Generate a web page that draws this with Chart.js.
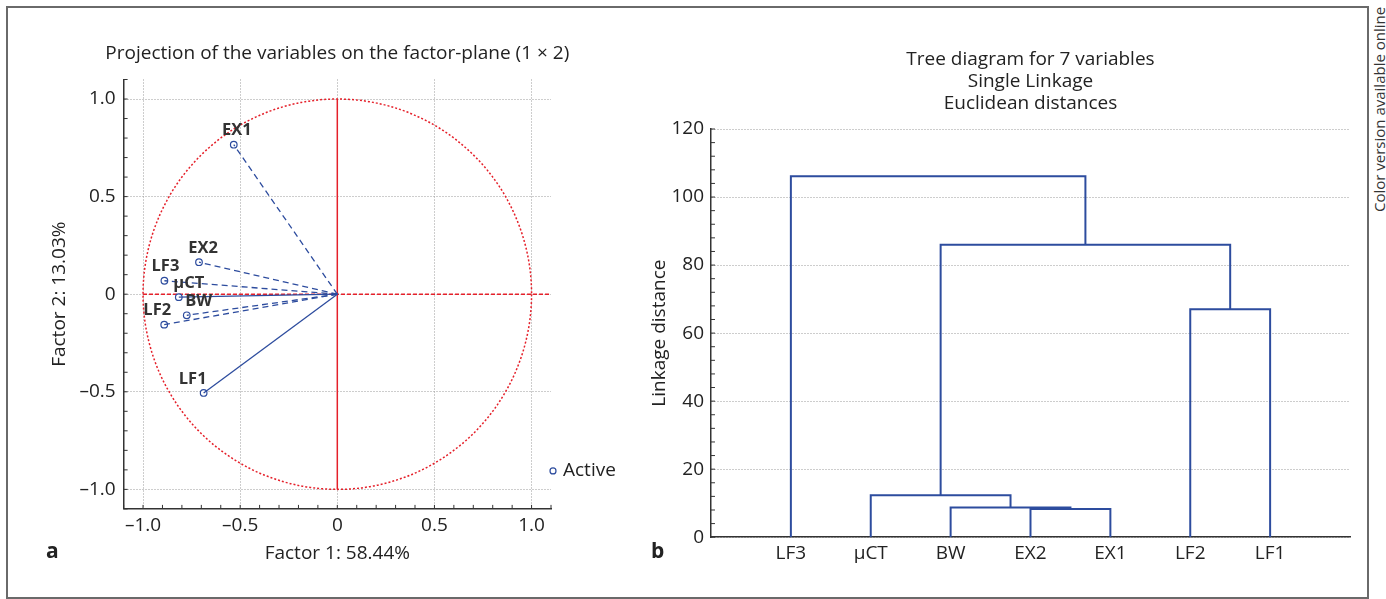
<!DOCTYPE html>
<html>
<head>
<meta charset="utf-8">
<script src="https://cdn.jsdelivr.net/npm/chart.js@4.4.0/dist/chart.umd.min.js"></script>
<style>
  body { margin: 0; width: 1386px; height: 599px; overflow: hidden; background: #fff; font-family: 'Open Sans', sans-serif; color: #222; }
  #frame { position: absolute; left: 6px; top: 6px; width: 1359px; height: 589px; border: 2px solid #6a6a6a; }
  #pca-box { position: absolute; left: 10px; top: 10px; width: 625px; height: 580px; }
  #tree-box { position: absolute; left: 640px; top: 10px; width: 720px; height: 580px; }
  .panel { position: absolute; font-weight: bold; font-size: 21px; line-height: 1; }
  #side { position: absolute; left: 1369px; top: 6px; height: 206px; writing-mode: vertical-rl; transform: rotate(180deg); font-size: 15px; color: #333; text-align: left; }
</style>
</head>
<body>
<div id="frame"></div>
<div id="pca-box"><canvas id="pca"></canvas></div>
<div id="tree-box"><canvas id="tree"></canvas></div>
<div class="panel" style="left:46px; top:540px;">a</div>
<div class="panel" style="left:651px; top:540px;">b</div>
<div id="side">Color version available online</div>

<script>
// --- panel a: variable projections on factor plane
const variables = ['EX1', 'EX2', 'LF3', 'μCT', 'BW', 'LF2', 'LF1'];
const factor1 = [-0.533, -0.712, -0.890, -0.816, -0.775, -0.891, -0.688];
const factor2 = [0.766, 0.164, 0.069, -0.015, -0.108, -0.156, -0.506];
const solidVectors = ['μCT', 'LF1'];
const factorTicks = [-1, -0.5, 0, 0.5, 1];
const pcaTitle = 'Projection of the variables on the factor-plane (1 \u00d7 2)';

// --- panel b: single linkage tree
const leaves = ['LF3', 'μCT', 'BW', 'EX2', 'EX1', 'LF2', 'LF1'];
const joinLeft = ['EX2', 'BW', 'μCT', 'LF2', 'C3', 'LF3'];
const joinRight = ['EX1', 'C1', 'C2', 'LF1', 'C4', 'C5'];
const joinHeight = [8.3, 8.7, 12.3, 67.0, 86.0, 106.1];
const distanceTicks = [0, 20, 40, 60, 80, 100, 120];

const blue = '#2d4c9e';
const red = '#e5202a';
const gridColor = '#9a9a9a';
const axisColor = '#333';

// label nudges so the names sit like in the original (px)
const labelNudge = { EX1: 3, EX2: 4, LF3: 1, 'μCT': 10, BW: 12, LF2: -7, LF1: -11 };

Chart.defaults.font.family = "'Open Sans', sans-serif";
Chart.defaults.font.size = 19;
Chart.defaults.color = '#222';

const fmt = v => v === 0 ? '0' : v.toFixed(1).replace('-', '\u2013');

// inward minor ticks on an axis, every `step`
function drawMinor(ctx, scale, step, len, area) {
  ctx.beginPath();
  for (let v = scale.min; v <= scale.max + 1e-9; v += step) {
    const p = scale.getPixelForValue(v);
    if (scale.isHorizontal()) { ctx.moveTo(p, area.bottom); ctx.lineTo(p, area.bottom - len); }
    else { ctx.moveTo(area.left, p); ctx.lineTo(area.left + len, p); }
  }
  ctx.stroke();
}

const pcaDecor = {
  id: 'pcaDecor',
  beforeDatasetsDraw(chart) {
    const { ctx, chartArea, scales: { x, y } } = chart;
    const cx = x.getPixelForValue(0), cy = y.getPixelForValue(0);
    const rx = x.getPixelForValue(1) - cx, ry = cy - y.getPixelForValue(1);
    ctx.save();
    ctx.strokeStyle = red;
    ctx.lineWidth = 1.5;
    ctx.setLineDash([2, 2]);
    ctx.beginPath();
    ctx.ellipse(cx, cy, rx, ry, 0, 0, Math.PI * 2);
    ctx.stroke();
    ctx.setLineDash([4, 2]);
    ctx.beginPath();
    ctx.moveTo(x.getPixelForValue(-1), cy);
    ctx.lineTo(chartArea.right, cy);
    ctx.stroke();
    ctx.setLineDash([]);
    ctx.beginPath();
    ctx.moveTo(cx, y.getPixelForValue(1));
    ctx.lineTo(cx, y.getPixelForValue(-1));
    ctx.stroke();
    ctx.restore();
  },
  afterDatasetsDraw(chart) {
    const { ctx } = chart;
    const meta = chart.getDatasetMeta(chart.data.datasets.length - 1);
    ctx.save();
    ctx.font = "bold 16.5px 'Open Sans', sans-serif";
    ctx.fillStyle = '#333';
    ctx.textAlign = 'center';
    ctx.textBaseline = 'middle';
    meta.data.forEach((pt, i) => {
      ctx.fillText(variables[i], pt.x + labelNudge[variables[i]], pt.y - 14);
    });
    ctx.restore();
  },
  afterDraw(chart) {
    const { ctx, chartArea, scales: { x, y } } = chart;
    ctx.save();
    ctx.strokeStyle = axisColor;
    ctx.lineWidth = 1;
    drawMinor(ctx, x, 0.1, 4, chartArea);
    drawMinor(ctx, y, 0.1, 4, chartArea);
    // title, centred on the plot area (the built-in title squeezes it)
    ctx.fillStyle = '#222';
    ctx.font = "19px 'Open Sans', sans-serif";
    ctx.textAlign = 'center';
    ctx.textBaseline = 'middle';
    ctx.fillText(pcaTitle, (chartArea.left + chartArea.right) / 2, chartArea.top - 26);
    // legend entry
    const ly = chartArea.bottom - 38;
    ctx.strokeStyle = blue;
    ctx.fillStyle = '#fff';
    ctx.lineWidth = 1.2;
    ctx.beginPath();
    ctx.arc(chartArea.right + 2, ly, 3, 0, Math.PI * 2);
    ctx.fill();
    ctx.stroke();
    ctx.fillStyle = '#222';
    ctx.textAlign = 'left';
    ctx.fillText('Active', chartArea.right + 12, ly);
    ctx.restore();
  }
};

const vectorSets = variables.map((name, i) => ({
  label: name,
  data: [{ x: 0, y: 0 }, { x: factor1[i], y: factor2[i] }],
  showLine: true,
  borderColor: blue,
  borderWidth: 1.3,
  borderDash: solidVectors.includes(name) ? [] : [6, 4],
  pointRadius: 0
}));

new Chart(document.getElementById('pca'), {
  type: 'scatter',
  data: {
    datasets: [...vectorSets, {
      label: 'Active',
      data: variables.map((_, i) => ({ x: factor1[i], y: factor2[i] })),
      pointStyle: 'circle',
      pointRadius: 3.3,
      borderWidth: 1.2,
      borderColor: blue,
      backgroundColor: '#fff'
    }]
  },
  options: {
    responsive: true,
    maintainAspectRatio: false,
    animation: false,
    events: [],
    layout: { padding: { left: 38.6, right: 84, top: 69.5, bottom: 25.5 } },
    plugins: {
      legend: { display: false },
      tooltip: { enabled: false },
      title: { display: false }
    },
    scales: {
      x: {
        type: 'linear', min: -1.1, max: 1.1,
        afterBuildTicks: s => { s.ticks = factorTicks.map(v => ({ value: v })); },
        ticks: { callback: fmt, padding: 5, maxRotation: 0 },
        grid: { color: gridColor, drawTicks: false },
        border: { color: axisColor, width: 1.5, dash: [1, 2] },
        title: { display: true, text: 'Factor 1: 58.44%', padding: { top: 0, bottom: 0 } }
      },
      y: {
        type: 'linear', min: -1.1, max: 1.1,
        afterBuildTicks: s => { s.ticks = factorTicks.map(v => ({ value: v })); },
        ticks: { callback: fmt, padding: 8 },
        grid: { color: gridColor, drawTicks: false },
        border: { color: axisColor, width: 1.5, dash: [1, 2] },
        title: { display: true, text: 'Factor 2: 13.03%', padding: { top: 0, bottom: 0 } }
      }
    }
  },
  plugins: [pcaDecor]
});

// build dendrogram segments from the merge table
const nodeX = {}, nodeH = {};
leaves.forEach((name, i) => { nodeX[name] = i + 1; nodeH[name] = 0; });
const treeSets = joinHeight.map((h, k) => {
  const a = joinLeft[k], b = joinRight[k];
  const id = 'C' + (k + 1);
  nodeX[id] = (nodeX[a] + nodeX[b]) / 2;
  nodeH[id] = h;
  return {
    label: id,
    data: [
      { x: nodeX[a], y: nodeH[a] }, { x: nodeX[a], y: h },
      { x: nodeX[b], y: h }, { x: nodeX[b], y: nodeH[b] }
    ],
    showLine: true,
    borderColor: blue,
    borderWidth: 2,
    pointRadius: 0
  };
});

const treeDecor = {
  id: 'treeDecor',
  afterDraw(chart) {
    const { ctx, chartArea, scales: { y } } = chart;
    ctx.save();
    ctx.strokeStyle = axisColor;
    ctx.lineWidth = 1;
    drawMinor(ctx, y, 4, 4, chartArea);
    ctx.restore();
  }
};

new Chart(document.getElementById('tree'), {
  type: 'scatter',
  data: { datasets: treeSets },
  options: {
    responsive: true,
    maintainAspectRatio: false,
    animation: false,
    events: [],
    layout: { padding: { left: 8.6, right: 10, top: 0, bottom: 20 } },
    plugins: {
      legend: { display: false },
      tooltip: { enabled: false },
      title: {
        display: true,
        fullSize: false,
        text: ['Tree diagram for 7 variables', 'Single Linkage', 'Euclidean distances'],
        font: { size: 19, weight: 'normal', lineHeight: 1.158 },
        color: '#222',
        padding: { top: 39, bottom: 14 }
      }
    },
    scales: {
      x: {
        type: 'linear', min: 0, max: leaves.length + 1,
        afterBuildTicks: s => { s.ticks = leaves.map((_, i) => ({ value: i + 1 })); },
        ticks: { callback: v => leaves[v - 1], padding: 5, maxRotation: 0 },
        grid: { display: false, drawTicks: false },
        border: { color: axisColor, width: 1.5 }
      },
      y: {
        type: 'linear', min: 0, max: 120,
        afterBuildTicks: s => { s.ticks = distanceTicks.map(v => ({ value: v })); },
        ticks: { padding: 7 },
        grid: { color: gridColor, drawTicks: false },
        border: { color: axisColor, width: 1.5, dash: [1, 2] },
        title: { display: true, text: 'Linkage distance', padding: { top: 0, bottom: -7 } }
      }
    }
  },
  plugins: [treeDecor]
});
</script>
</body>
</html>
